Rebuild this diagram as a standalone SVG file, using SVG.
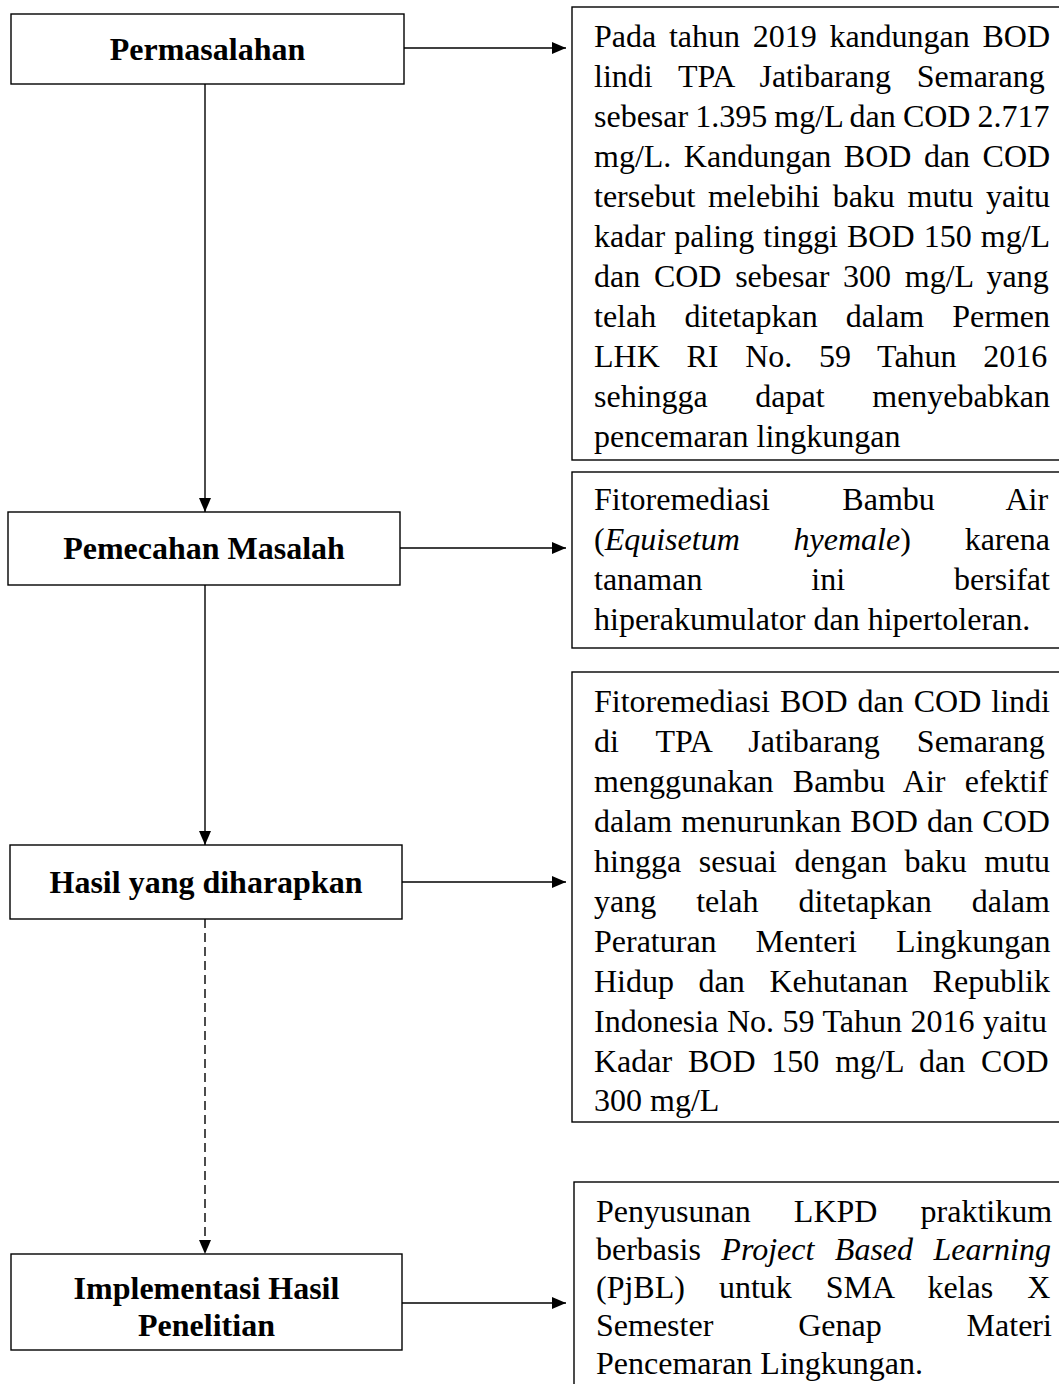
<svg xmlns="http://www.w3.org/2000/svg" width="1059" height="1384" viewBox="0 0 1059 1384">
<style>
.box{fill:#fff;stroke:#000;stroke-width:1.4}
.t{font-family:"Liberation Serif","Times New Roman",serif;font-size:32px;fill:#000}
.b{font-family:"Liberation Serif","Times New Roman",serif;font-size:32px;font-weight:bold;fill:#000;text-anchor:middle}
.ln{stroke:#000;stroke-width:1.4;fill:none}
.dash{stroke-dasharray:9 5}
</style>
<defs>
<marker id="ah" viewBox="0 0 14 12" refX="14" refY="6" markerWidth="14" markerHeight="12" markerUnits="userSpaceOnUse" orient="auto">
<path d="M0,0 L14,6 L0,12 z" fill="#000"/>
</marker>
</defs>
<rect width="1059" height="1384" fill="#fff"/>

<g id="connectors">
<line class="ln" x1="404" y1="48" x2="566" y2="48" marker-end="url(#ah)"/>
<line class="ln" x1="205" y1="84" x2="205" y2="512" marker-end="url(#ah)"/>
<line class="ln" x1="400" y1="548" x2="566" y2="548" marker-end="url(#ah)"/>
<line class="ln" x1="205" y1="585" x2="205" y2="845" marker-end="url(#ah)"/>
<line class="ln" x1="402" y1="882" x2="566" y2="882" marker-end="url(#ah)"/>
<line class="ln dash" x1="205" y1="919" x2="205" y2="1254" marker-end="url(#ah)"/>
<line class="ln" x1="402" y1="1303" x2="566" y2="1303" marker-end="url(#ah)"/>
</g>

<g id="permasalahan">
<rect class="box" x="11" y="14" width="393" height="70"/>
<text class="b" x="207.5" y="60">Permasalahan</text>
</g>

<g id="pemecahan">
<rect class="box" x="8" y="512" width="392" height="73"/>
<text class="b" x="204" y="559">Pemecahan Masalah</text>
</g>

<g id="hasil">
<rect class="box" x="10" y="845" width="392" height="74"/>
<text class="b" x="206" y="893">Hasil yang diharapkan</text>
</g>

<g id="implementasi">
<rect class="box" x="11" y="1254" width="391" height="96"/>
<text class="b" x="206.5" y="1299">Implementasi Hasil</text>
<text class="b" x="206.5" y="1336">Penelitian</text>
</g>

<g id="desc-permasalahan">
<rect class="box" x="572" y="7" width="500" height="453"/>
<text class="t" x="594" y="47" word-spacing="4.7">Pada tahun 2019 kandungan BOD</text>
<text class="t" x="594" y="87" word-spacing="17.8">lindi TPA Jatibarang Semarang</text>
<text class="t" x="594" y="127" word-spacing="-0.9">sebesar 1.395 mg/L dan COD 2.717</text>
<text class="t" x="594" y="167" word-spacing="4.5">mg/L. Kandungan BOD dan COD</text>
<text class="t" x="594" y="207" word-spacing="4.7">tersebut melebihi baku mutu yaitu</text>
<text class="t" x="594" y="247" word-spacing="1.1">kadar paling tinggi BOD 150 mg/L</text>
<text class="t" x="594" y="287" word-spacing="5.7">dan COD sebesar 300 mg/L yang</text>
<text class="t" x="594" y="327" word-spacing="20.2">telah ditetapkan dalam Permen</text>
<text class="t" x="594" y="367" word-spacing="18.7">LHK RI No. 59 Tahun 2016</text>
<text class="t" x="594" y="407" word-spacing="39.6">sehingga dapat menyebabkan</text>
<text class="t" x="594" y="447">pencemaran lingkungan</text>
</g>

<g id="desc-pemecahan">
<rect class="box" x="572" y="472" width="500" height="176"/>
<text class="t" x="594" y="510" word-spacing="64.4">Fitoremediasi Bambu Air</text>
<text class="t" x="594" y="550" word-spacing="45.8">(<tspan font-style="italic">Equisetum hyemale</tspan>) karena</text>
<text class="t" x="594" y="590" word-spacing="100.9">tanaman ini bersifat</text>
<text class="t" x="594" y="630">hiperakumulator dan hipertoleran.</text>
</g>

<g id="desc-hasil">
<rect class="box" x="572" y="672" width="500" height="450"/>
<text class="t" x="594" y="712" word-spacing="2">Fitoremediasi BOD dan COD lindi</text>
<text class="t" x="594" y="752" word-spacing="29.1">di TPA Jatibarang Semarang</text>
<text class="t" x="594" y="792" word-spacing="11.3">menggunakan Bambu Air efektif</text>
<text class="t" x="594" y="832" word-spacing="1.1">dalam menurunkan BOD dan COD</text>
<text class="t" x="594" y="872" word-spacing="9.6">hingga sesuai dengan baku mutu</text>
<text class="t" x="594" y="912" word-spacing="32">yang telah ditetapkan dalam</text>
<text class="t" x="594" y="952" word-spacing="31">Peraturan Menteri Lingkungan</text>
<text class="t" x="594" y="992" word-spacing="16.6">Hidup dan Kehutanan Republik</text>
<text class="t" x="594" y="1032" word-spacing="0.5">Indonesia No. 59 Tahun 2016 yaitu</text>
<text class="t" x="594" y="1072" word-spacing="7.8">Kadar BOD 150 mg/L dan COD</text>
<text class="t" x="594" y="1111">300 mg/L</text>
</g>

<g id="desc-implementasi">
<rect class="box" x="574" y="1182" width="500" height="220"/>
<text class="t" x="596" y="1222" word-spacing="35.2">Penyusunan LKPD praktikum</text>
<text class="t" x="596" y="1260" word-spacing="12.5">berbasis <tspan font-style="italic">Project Based Learning</tspan></text>
<text class="t" x="596" y="1298" word-spacing="26">(PjBL) untuk SMA kelas X</text>
<text class="t" x="596" y="1336" word-spacing="76.9">Semester Genap Materi</text>
<text class="t" x="596" y="1374">Pencemaran Lingkungan.</text>
</g>
</svg>
